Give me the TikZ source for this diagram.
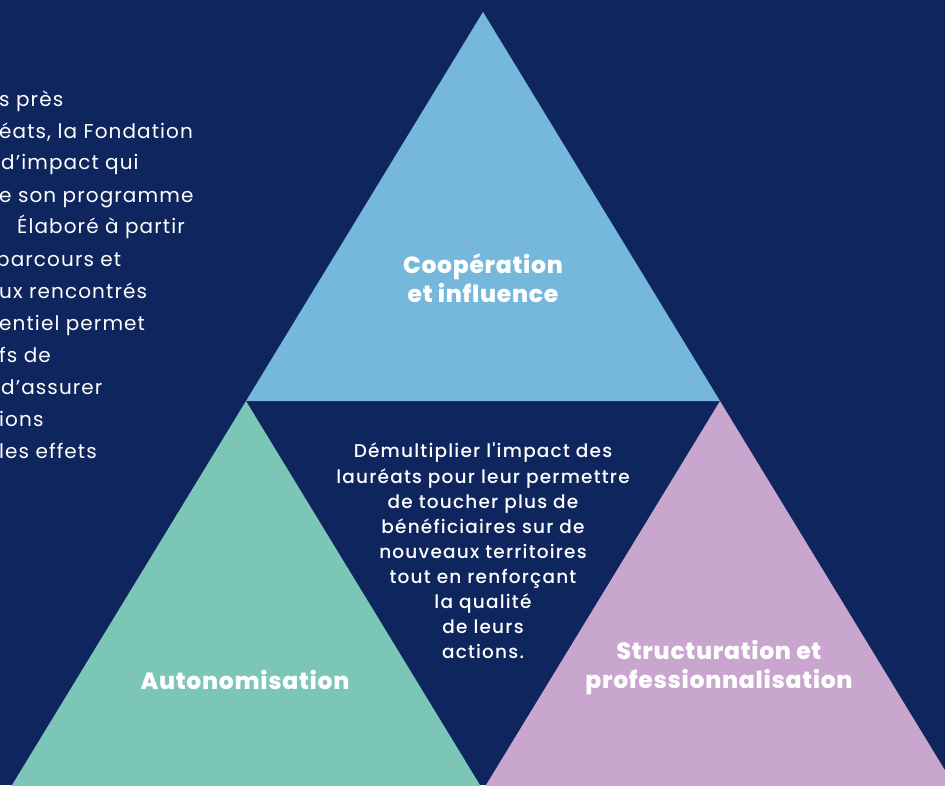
\documentclass[tikz,border=0pt]{standalone}
\usepackage{fontspec}
\setmainfont{Poppins}
\newfontfamily\bodyfont{Poppins}[LetterSpace=5.5]
\IfFontExistsTF{Poppins Medium}
  {\newfontfamily\midfont{Poppins Medium}[LetterSpace=6.5]}
  {\newfontfamily\midfont{Poppins}[LetterSpace=7]}
\IfFontExistsTF{Poppins ExtraBold}
  {\newfontfamily\labfont{Poppins ExtraBold}[LetterSpace=3]}
  {\newfontfamily\labfont{Poppins}[UprightFont=* Bold,LetterSpace=3]}
\definecolor{navy}{HTML}{0F255E}
\definecolor{skyb}{HTML}{76B8DB}
\definecolor{mint}{HTML}{7BC6B6}
\definecolor{lilac}{HTML}{C8A6CE}
\tikzset{
  body/.style={text=white, inner sep=0pt, font=\bodyfont\fontsize{20}{32}\selectfont, anchor=base west},
  mid/.style={text=white, inner sep=0pt, align=center, font=\midfont\fontsize{18.5}{25.1}\selectfont},
  lab/.style={text=white, inner sep=0pt, align=center, font=\labfont\fontsize{23.5}{29}\selectfont},
}
\begin{document}
\begin{tikzpicture}[x=1pt,y=-1pt]
\fill[navy] (0,0) rectangle (945,785);
\useasboundingbox (0,0) rectangle (945,785);
% triangles
\fill[skyb] (483,12) -- (720,401) -- (246,401) -- cycle;
\fill[mint] (246,401) -- (483,790) -- (9,790) -- cycle;
\fill[lilac] (720,401) -- (957,790) -- (483,790) -- cycle;
% left text (cut by the page edge)
\node[body] (l1) at (-1,106) {s près};
\node[body] (l2) at (-1,138) {éats, la Fondation};
\node[body] (l3) at (1,169) {d’impact qui};
\node[body] (l4) at (-1,202) {e son programme};
\node[body] (l5) at (17,233) {Élaboré à partir};
\node[body] (l6) at (-4,266) {parcours et};
\node[body] (l7) at (-1,298) {ux rencontrés};
\node[body] (l8) at (-1,330) {entiel permet};
\node[body] (l9) at (-1,362) {fs de};
\node[body] (l10) at (1,394) {d’assurer};
\node[body] (l11) at (-1,426) {ions};
\node[body] (l12) at (-1,458) {les effets};
% centre text
\node[mid, anchor=north] (c) at (483,443) {Démultiplier l{\char"27}impact des\\lauréats pour leur permettre\\de toucher plus de\\bénéficiaires sur de\\nouveaux territoires\\tout en renforçant\\la qualité\\de leurs\\actions.};
% labels
\node[lab] (top) at (483,278) {Coopération\\et influence};
\node[lab] (left) at (245,680) {Autonomisation};
\node[lab] (right) at (719,668) {Structuration et\\professionnalisation};
\end{tikzpicture}
\end{document}
